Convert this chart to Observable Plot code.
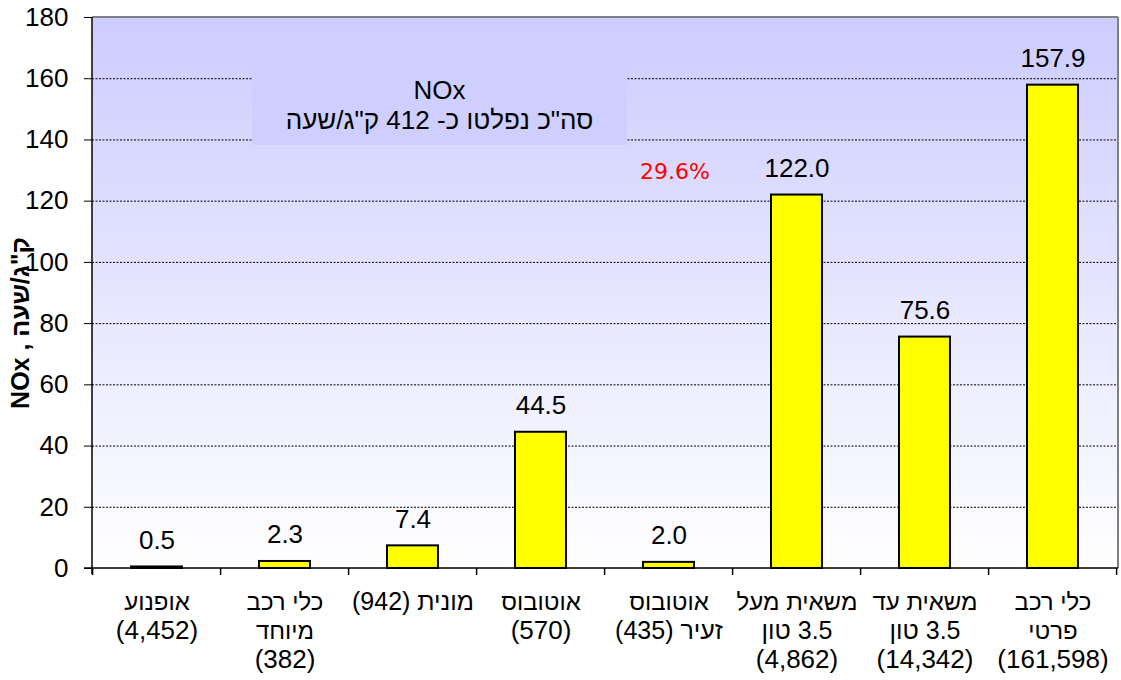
<!DOCTYPE html>
<html><head><meta charset="utf-8">
<script src="https://cdn.jsdelivr.net/npm/d3@7"></script>
<script src="https://cdn.jsdelivr.net/npm/@observablehq/plot@0.6"></script>
<style>
body{margin:0;background:#fff;}
#wrap{position:relative;width:1121px;height:680px;}
#box{position:absolute;left:252px;top:67px;width:375px;height:78px;background:#ceceff;font:26px "Liberation Sans",Arial,sans-serif;color:#000;text-align:center;direction:rtl;line-height:30px;padding-top:8px;box-sizing:border-box}
.xlab text{direction:rtl;}
</style></head>
<body><div id="wrap"><div id="chart"></div><div id="box"><div>NOx</div><div>סה"כ נפלטו כ- 412 ק"ג/שעה</div></div></div>
<script>
const categories = ["אופנוע\n(4,452)", "כלי רכב\nמיוחד\n(382)", "מונית (942)", "אוטובוס\n(570)", "אוטובוס\nזעיר (435)", "משאית מעל\n3.5 טון\n(4,862)", "משאית עד\n3.5 טון\n(14,342)", "כלי רכב\nפרטי\n(161,598)"];
const values = [0.5, 2.3, 7.4, 44.5, 2.0, 122.0, 75.6, 157.9];
const yTicks = [0, 20, 40, 60, 80, 100, 120, 140, 160, 180];
const gridTicks = [20, 40, 60, 80, 100, 120, 140, 160];
const yLabel = 'NOx , ק"ג/שעה';
const annotationText = ["29.6%"];
const annotationCategory = [categories[4]];
const annotationValue = [129.4];

const data = categories.map((c, i) => ({cat: c, value: values[i]}));
const notes = annotationText.map((t, i) => ({cat: annotationCategory[i], value: annotationValue[i], text: t}));
const labelLines = categories.flatMap(c => c.split("\n").map((line, i) => ({cat: c, line, i})));
const lineSize = s => /^[\d(),.\s]+$/.test(s) ? 26 : (/\d/.test(s) ? 25 : 24);
const PAD = 0.6;

function defs() {
  const g = d3.create("svg:defs");
  const lg = g.append("linearGradient").attr("id", "bgGrad").attr("x1", 0).attr("y1", 0).attr("x2", 0).attr("y2", 1);
  lg.append("stop").attr("offset", "0%").attr("stop-color", "#ccccff");
  lg.append("stop").attr("offset", "100%").attr("stop-color", "#ffffff");
  return g.node();
}

function edges(index, scales, values, dims) {
  const x = scales.x;
  const step = x(categories[1]) - x(categories[0]);
  const off = step * PAD / 2;
  const bw = step * (1 - PAD);
  const left = dims.marginLeft, right = dims.width - dims.marginRight;
  const top = dims.marginTop, bottom = dims.height - dims.marginBottom;
  const g = d3.create("svg:g");
  const xs = categories.map(c => x(c) - off).concat([x(categories[categories.length - 1]) + bw + off]);
  g.selectAll("line.t").data(xs).join("line").attr("x1", d => d).attr("x2", d => d)
    .attr("y1", bottom).attr("y2", bottom + 7).attr("stroke", "black").attr("stroke-width", 1.5);
  g.append("line").attr("x1", left).attr("x2", right).attr("y1", top).attr("y2", top).attr("stroke", "#808080").attr("stroke-width", 2);
  g.append("line").attr("x1", right).attr("x2", right).attr("y1", top).attr("y2", bottom).attr("stroke", "#808080").attr("stroke-width", 2);
  g.append("line").attr("x1", left).attr("x2", left).attr("y1", top).attr("y2", bottom + 6).attr("stroke", "black").attr("stroke-width", 1.5);
  g.append("line").attr("x1", left - 8).attr("x2", right).attr("y1", bottom).attr("y2", bottom).attr("stroke", "black").attr("stroke-width", 1.5);
  return g.node();
}

const chart = Plot.plot({
  width: 1121,
  height: 680,
  marginLeft: 92,
  marginRight: 3,
  marginTop: 17,
  marginBottom: 112,
  style: {fontFamily: "'Liberation Sans', Arial, sans-serif", fontSize: "26px", color: "black", background: "white"},
  x: {domain: categories, paddingInner: PAD, paddingOuter: PAD / 2, label: null, axis: null},
  y: {domain: [0, 180], label: null},
  marks: [
    defs,
    Plot.frame({fill: "url(#bgGrad)", stroke: "none"}),
    Plot.gridY(gridTicks, {stroke: "black", strokeOpacity: 1, strokeWidth: 1, strokeDasharray: "2,1.5"}),
    Plot.barY(data, {x: "cat", y: "value", fill: "#ffff00", stroke: "black", strokeWidth: 2}),
    Plot.text(data, {x: "cat", y: "value", text: d => d.value.toFixed(1), dy: -18, lineAnchor: "bottom", fontSize: 26, fill: "black"}),
    Plot.text(notes, {x: "cat", y: "value", text: "text", dx: 6, lineAnchor: "middle", fontSize: 22, fill: "#ff0000", fontFamily: "'DejaVu Sans', Verdana, sans-serif"}),
    Plot.axisY(yTicks, {tickSize: 8, tickPadding: 16, fontSize: 26, label: null}),
    ...[0, 1, 2].map(k => Plot.text(labelLines.filter(d => d.i === k), {
      x: "cat", frameAnchor: "bottom", text: "line", dy: 41 + 29 * k, lineAnchor: "bottom",
      fontSize: d => lineSize(d.line), fill: "black", className: "xlab"
    })),
    Plot.text([yLabel], {frameAnchor: "left", text: d => d, rotate: -90, dx: -72, dy: 30, fontSize: 25, fontWeight: "bold", lineAnchor: "middle", textAnchor: "middle"}),
    edges
  ]
});
document.getElementById("chart").appendChild(chart);
</script>
</body></html>
